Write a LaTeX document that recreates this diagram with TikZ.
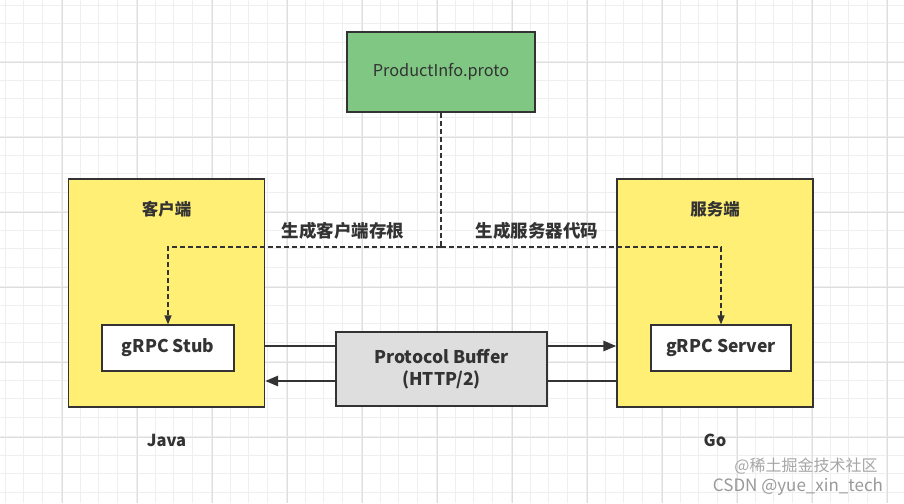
\documentclass[tikz,border=0pt]{standalone}
\usepackage{fontspec}
\setmainfont{Noto Sans CJK SC}
\usepackage{tikz}
\usetikzlibrary{positioning,arrows.meta}
\definecolor{boxyellow}{HTML}{FFEF75}
\definecolor{protogreen}{HTML}{80C783}
\definecolor{pbgray}{HTML}{DEDEDE}
\definecolor{ink}{HTML}{333333}
\definecolor{minorgrid}{HTML}{EFEFEF}
\definecolor{majorgrid}{HTML}{DEDEDE}

\begin{document}
\begin{tikzpicture}[x=1pt, y=-1pt,
  every node/.style={text=ink},
  frame/.style={draw=ink, line width=1.2pt, rectangle},
  side/.style={frame, fill=boxyellow, minimum width=196pt, minimum height=228pt},
  inner/.style={frame, fill=white, minimum height=46pt, font=\fontsize{17.5}{20}\selectfont\bfseries},
  title/.style={font=\fontsize{16.5}{19}\selectfont\bfseries},
  gen/.style={draw=ink, line width=1.3pt, dash pattern=on 5pt off 3pt},
  flow/.style={draw=ink, line width=2.6pt},
  >={Triangle[length=13pt,width=10pt]}]
\useasboundingbox (0,0) rectangle (904,503);
\fill[white] (0,0) rectangle (904,503);
% grid
\foreach \i in {0,...,48} {
  \draw[minorgrid, line width=0.8pt] (5+18.75*\i,0) -- (5+18.75*\i,503);
}
\foreach \i in {0,...,27} {
  \draw[minorgrid, line width=0.8pt] (0,5+18.75*\i) -- (904,5+18.75*\i);
}
\foreach \i in {0,...,11} {
  \draw[majorgrid, line width=0.8pt] (62+75*\i,0) -- (62+75*\i,503);
}
\foreach \i in {0,...,6} {
  \draw[majorgrid, line width=0.8pt] (0,62+75*\i) -- (904,62+75*\i);
}

\node[frame, fill=protogreen, minimum width=188pt, minimum height=80pt,
  font=\fontsize{16.3}{19}\selectfont] (proto) at (441,72) {ProductInfo.proto};

\node[side] (client) at (166.5,293) {};
\node[side] (server) at (715,293) {};
\node[title, below=31pt of client.north, anchor=center] (clientlbl) {客户端};
\node[title, below=31pt of server.north, anchor=center] (serverlbl) {服务端};

\node[inner, minimum width=132pt] (stub) at (168,348) {gRPC Stub};
\node[inner, minimum width=140pt] (srv) at (721,348) {gRPC Server};

\node[frame, fill=pbgray, minimum width=211pt, minimum height=74pt, align=center,
  font=\fontsize{17.5}{22}\selectfont\bfseries] (pb) at (441.5,369) {Protocol Buffer\\(HTTP/2)};

\node[title, below=33pt of client.south, anchor=center] (java) {Java};
\node[title, below=33pt of server.south, anchor=center] (go) {Go};

% generated code
\coordinate (split) at (441,247);
\draw[gen] (proto.south) -- (split);
\draw[gen, ->, >={Triangle[length=9pt,width=7pt]}] (split) -| (stub.north);
\draw[gen, ->, >={Triangle[length=9pt,width=7pt]}] (split) -| (srv.north);
\node[title, font=\fontsize{17.5}{20}\selectfont\bfseries, above=4pt of split, xshift=-98pt] (genclient) {生成客户端存根};
\node[title, font=\fontsize{17.5}{20}\selectfont\bfseries, above=4pt of split, xshift=96pt] (genserver) {生成服务器代码};

% transport
\draw[flow] ([yshift=-53pt]client.east) -- ([yshift=-53pt]client.east -| pb.west);
\draw[flow, ->] ([yshift=-53pt]server.west -| pb.east) -- ([yshift=-53pt]server.west);
\draw[flow] ([yshift=-88pt]server.west) -- ([yshift=-88pt]server.west -| pb.east);
\draw[flow, ->] ([yshift=-88pt]client.east -| pb.west) -- ([yshift=-88pt]client.east);

% watermark
\node[text=black!35, font=\fontsize{16}{18}\selectfont, inner sep=0pt] (wm1) at (806,466) {@稀土掘金技术社区};
\node[text=black!40, font=\fontsize{17}{19}\selectfont, inner sep=0pt] (wm2) at (798,487) {CSDN @yue\_xin\_tech};
\end{tikzpicture}
\end{document}
